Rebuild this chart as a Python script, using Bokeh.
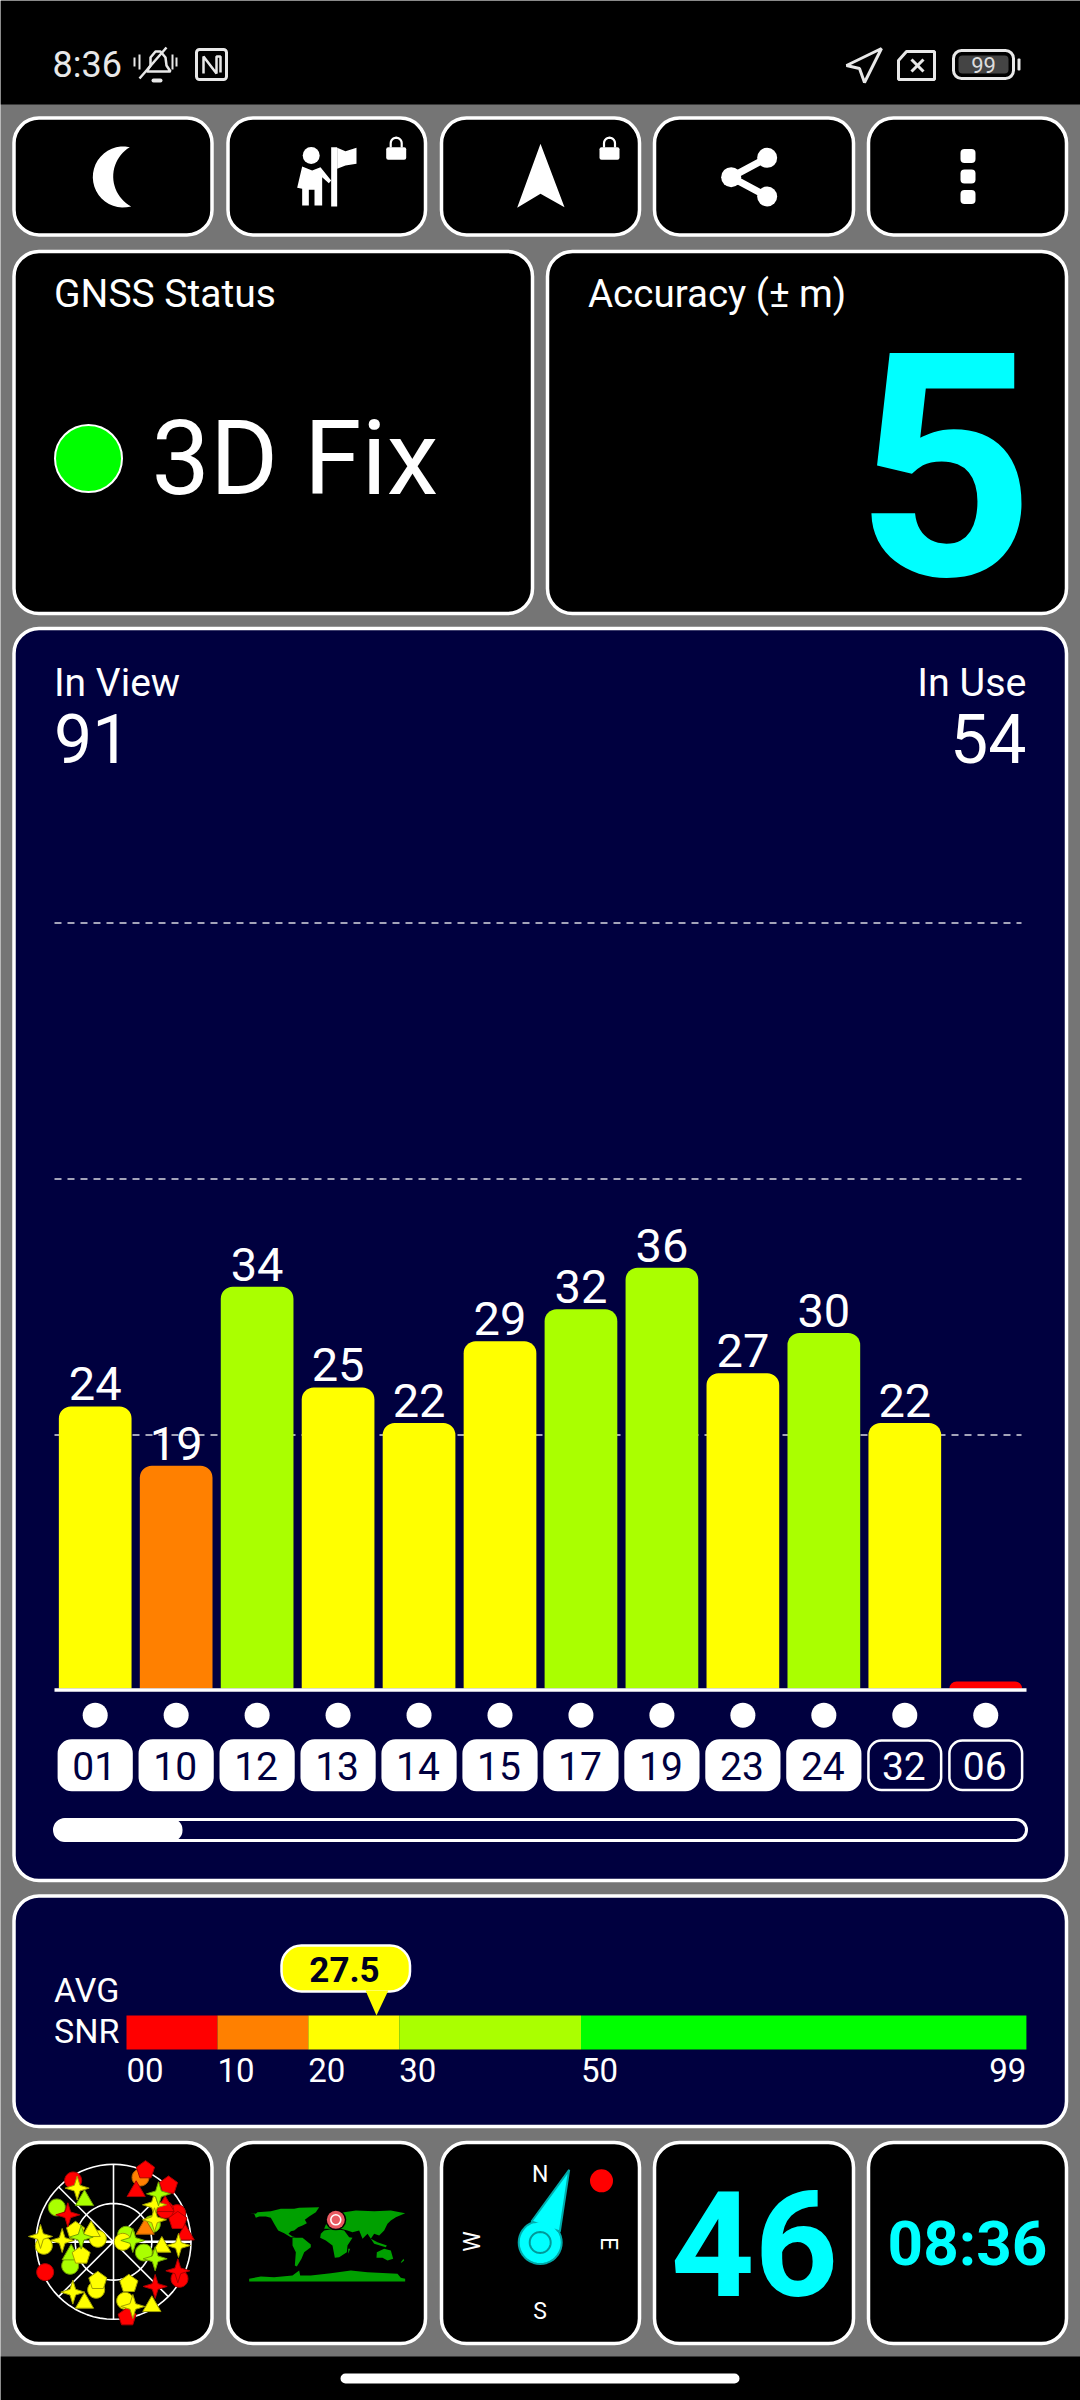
import math
from bokeh.plotting import figure
from bokeh.models import Range1d
from bokeh.core.properties import value
from bokeh.embed import file_html
from bokeh.resources import INLINE

# ---------- data ----------
prn_labels = ["01", "10", "12", "13", "14", "15", "17", "19", "23", "24", "32", "06"]
snr_heights = [23.8, 18.8, 33.9, 25.4, 22.4, 29.3, 32.0, 35.5, 26.6, 30.0, 22.4, 0.6]
snr_labels = ["24", "19", "34", "25", "22", "29", "32", "36", "27", "30", "22", ""]
bar_colors = ["#ffff00", "#ff8000", "#aaff00", "#ffff00", "#ffff00", "#ffff00", "#aaff00",
              "#aaff00", "#ffff00", "#aaff00", "#ffff00", "#ff0000"]
prn_used = [True] * 10 + [False, False]
grid_levels = [21.4, 43.0, 64.6]

avg_snr = 27.5
scale_starts = [0, 10, 20, 30, 50]
scale_ends = [10, 20, 30, 50, 99]
scale_colors = ["#ff0000", "#ff8000", "#ffff00", "#aaff00", "#00ff00"]
scale_ticks = [0, 10, 20, 30, 50]
scale_tick_labels = ["00", "10", "20", "30", "50"]

in_view = "91"
in_use = "54"
accuracy = "5"
speed = "46"
clock = "08:36"

# sky map: offsets from the radar centre (3x crop units), shape and colour class
sky_x = [-121, -205, 198, 191, 155, 81, -170, -130, 91, 38, 115,
         -209, -47, -52, 35, 28, 96, 165, 193, 41,
         68, 215, 155, -87, -127, 95,
         -67, 145, 115, -87,
         -97, -47, 46, -114,
         -109, -219, -154, -122, 123, 195, 58, 123,
         135, -97, 58, 125,
         -137, 125, 193]
sky_y = [-184, 91, 111, -86, -96, -193, -103, 72, 32, -21, -53,
         12, -9, 144, 177, 0, -215, -169, -63, 226,
         -156, -26, -111, -129, 34, -43,
         -36, 11, 189, 179,
         41, 117, 126, -33,
         -161, -16, -4, 151, -111, 11, 194, -66,
         -144, -14, -4, 51,
         -81, 134, 87]
sky_shape = ["c"] * 5 + ["c"] + ["c"] * 5 + ["c"] * 4 + ["c"] + ["p"] * 4 + ["t"] * 3 + ["t"] * 2 + ["t"] + ["t"] * 4 + ["p"] * 4 + ["s"] * 8 + ["s"] * 4 + ["s"] * 3
sky_color = ["r"] * 5 + ["o"] + ["g"] * 5 + ["y"] * 4 + ["y"] + ["r"] * 4 + ["r"] * 3 + ["g"] * 2 + ["o"] + ["y"] * 4 + ["y"] * 4 + ["y"] * 8 + ["g"] * 4 + ["r"] * 3

# world map outline, 3x crop units
map_polys = [
    [(65,97),(85,100),(90,95),(130,92),(160,85),(200,85),(215,82),(275,80),(265,95),(245,108),(232,118),(238,128),(225,135),(212,140),(200,150),(190,152),(183,160),(195,168),(205,170),(190,170),(170,158),(152,150),(140,130),(130,112),(115,108),(95,108),(85,112),(80,100)],
    [(195,172),(225,172),(250,192),(250,200),(230,215),(222,235),(208,258),(202,255),(205,215),(195,195)],
    [(290,150),(320,145),(350,150),(365,170),(375,172),(360,195),(358,215),(335,230),(322,232),(315,195),(295,180),(278,172),(280,160)],
    [(290,145),(300,120),(320,100),(350,95),(385,90),(440,92),(490,90),(533,98),(505,110),(490,120),(480,130),(470,150),(455,165),(440,160),(430,175),(420,160),(405,175),(395,150),(375,155),(360,150),(340,145)],
    [(430,175),(450,185),(478,195),(475,200),(440,190)],
    [(448,215),(470,205),(490,210),(497,235),(480,240),(465,232),(447,232)],
    [(520,245),(528,235),(530,240),(522,247)],
    [(362,205),(368,205),(362,220)],
    [(65,295),(100,288),(140,290),(195,285),(215,270),(218,285),(250,285),(310,278),(370,270),(420,275),(510,280),(520,292),(533,295),(533,303),(65,303)],
]

# ---------- layout constants ----------
GRAY, NAVY, WHITE, CYAN = "#757575", "#00003f", "#ffffff", "#00ffff"
K = 11.85          # px per SNR unit on bars
BASE = 1688
X0, DX = 94.7, 80.96
SX0, SK = 126.0, 9.09
CAP = 0.355        # half the cap height of the font, in em
FONT = value("Roboto")

p = figure(width=1080, height=2400, output_backend="svg", toolbar_location=None,
           x_range=Range1d(0, 1080), y_range=Range1d(2400, 0),
           min_border=0, background_fill_color=GRAY, border_fill_color=GRAY)
p.axis.visible = False
p.grid.visible = False
p.outline_line_color = None
p.extra_y_ranges = {"val": Range1d((BASE - 2400) / K, BASE / K)}
p.extra_x_ranges = {"sat": Range1d((0 - X0) / DX, (1080 - X0) / DX),
                    "scale": Range1d((0 - SX0) / SK, (1080 - SX0) / SK)}


def panel(l, t, r, b, fill="#000000", line=WHITE, lw=3.5, rad=25):
    p.quad(left=[l], right=[r], top=[t], bottom=[b], fill_color=fill, line_color=line,
           line_width=lw, border_radius=rad)


def txt(x, y, s, size, color=WHITE, align="left", base="alphabetic", style="normal", angle=0):
    if base == "alphabetic":
        y -= CAP * size
    p.text(x=[x], y=[y], text=[s], text_font=FONT, text_font_size=f"{size}px", text_color=color,
           text_align=align, text_baseline="middle", text_font_style=style, angle=angle)


def poly(pts, fill=WHITE, line=None, lw=1):
    p.patch([a for a, _ in pts], [b for _, b in pts], fill_color=fill, line_color=line, line_width=lw)


def circle_pts(cx, cy, r, n=40, rot=0):
    return [(cx + r * math.cos(rot + 2 * math.pi * i / n), cy + r * math.sin(rot + 2 * math.pi * i / n)) for i in range(n)]


def arc3(a, m, b, n=24):
    d = 2 * (a[0] * (m[1] - b[1]) + m[0] * (b[1] - a[1]) + b[0] * (a[1] - m[1]))
    sa, sm, sb = a[0]**2 + a[1]**2, m[0]**2 + m[1]**2, b[0]**2 + b[1]**2
    cx = (sa * (m[1] - b[1]) + sm * (b[1] - a[1]) + sb * (a[1] - m[1])) / d
    cy = (sa * (b[0] - m[0]) + sm * (a[0] - b[0]) + sb * (m[0] - a[0])) / d
    r = math.hypot(a[0] - cx, a[1] - cy)
    t0 = math.atan2(a[1] - cy, a[0] - cx) % (2 * math.pi)
    t1 = math.atan2(b[1] - cy, b[0] - cx) % (2 * math.pi)
    return [(cx + r * math.cos(t0 + (t1 - t0) * i / n), cy + r * math.sin(t0 + (t1 - t0) * i / n)) for i in range(n + 1)]


# status and navigation bars
p.quad(left=[0], right=[1080], top=[0], bottom=[104], fill_color="#000000", line_color=None)
p.quad(left=[0], right=[1080], top=[2356], bottom=[2400], fill_color="#000000", line_color=None)
p.quad(left=[340], right=[739], top=[2373], bottom=[2383], fill_color=WHITE, line_color=None, border_radius=5)
txt(52, 77, "8:36", 36, "#e8e8e8")

# muted bell
bell = [(146, 71), (150, 65), (150, 57), (155, 51), (160, 51), (165, 57), (166, 65), (170, 71)]
p.line([a for a, _ in bell] + [146], [b for _, b in bell] + [71], line_color="#e8e8e8", line_width=2.5)
p.line([139, 166], [78, 47], line_color="#e8e8e8", line_width=2.5)
p.line([134, 134], [57, 66], line_color="#e8e8e8", line_width=2)
p.line([139, 139], [54, 69], line_color="#e8e8e8", line_width=2)
p.line([176, 176], [57, 66], line_color="#e8e8e8", line_width=2)
p.line([172, 172], [54, 69], line_color="#e8e8e8", line_width=2)
p.quad(left=[151], right=[162], top=[78], bottom=[82], fill_color="#e8e8e8", line_color=None, border_radius=2)
# NFC
p.quad(left=[196], right=[226], top=[49], bottom=[79], fill_color=None, line_color="#e8e8e8", line_width=3, border_radius=3)
p.line([203, 203, 216, 216, 220, 220], [73, 56, 73, 56, 56, 72], line_color="#e8e8e8", line_width=2.5)
# location arrow
poly([(881, 48), (846, 65), (859, 68), (864, 82)], fill=None, line="#e8e8e8", lw=3)
# SIM
poly([(906, 51), (934, 51), (934, 79), (898, 79), (898, 60)], fill=None, line="#e8e8e8", lw=3)
p.line([911, 923], [59, 71], line_color="#e8e8e8", line_width=3)
p.line([923, 911], [59, 71], line_color="#e8e8e8", line_width=3)
# battery
p.quad(left=[953], right=[1013], top=[50], bottom=[78], fill_color=None, line_color="#e8e8e8", line_width=3, border_radius=8)
p.quad(left=[958], right=[1008], top=[55], bottom=[73], fill_color="#444444", line_color=None, border_radius=4)
p.quad(left=[1017], right=[1020], top=[58], bottom=[70], fill_color="#e8e8e8", line_color=None, border_radius=1)
txt(983, 64.5, "99", 22, "#dddddd", align="center", base="middle")

# top buttons
btn_x = [(13.5, 211.5), (227.5, 425), (441, 639), (654, 853), (868, 1066)]
for l, r in btn_x:
    panel(l, 117.6, r, 234.4)
# moon
moon = arc3((129.3, 146.7), (92.3, 176.5), (130.7, 206)) + arc3((130.7, 206), (112.7, 176.5), (129.3, 146.7))
poly(moon)
# person + flag
p.scatter([310.7], [155], size=17, fill_color=WHITE, line_color=None)
poly([(z / 3, y / 3 + 110) for z, y in [(905,168),(935,180),(960,170),(992,210),(985,218),(965,200),(965,285),(942,285),(942,238),(925,238),(925,285),(905,285),(905,235),(890,232)]])
poly([(z / 3, y / 3 + 110) for z, y in [(992,110),(1010,110),(1010,288),(992,288)]])
poly([(z / 3, y / 3 + 110) for z, y in [(1010,112),(1035,122),(1068,112),(1068,160),(1035,165),(1010,175)]])
# locks
for lx in (395.7, 609):
    p.quad(left=[lx - 10], right=[lx + 10], top=[146.7], bottom=[159.3], fill_color=WHITE, line_color=None, border_radius=2)
    arc = [(lx + 5.5 * math.cos(a / 10 * math.pi), 146.7 - 4 - 5.5 * math.sin(a / 10 * math.pi)) for a in range(11)]
    p.line([lx + 5.5] + [a for a, _ in arc] + [lx - 5.5], [147] + [b for _, b in arc] + [147], line_color=WHITE, line_width=2.2)
# navigation arrow
poly([(430 + z / 3, 110 + y / 3) for z, y in [(330,100),(402,290),(330,250),(260,292)]])
# share
sx = [430 + 1010 / 3, 430 + 902 / 3, 430 + 1010 / 3]
sy = [110 + 142 / 3, 110 + 200 / 3, 110 + 258 / 3]
p.line(sx, sy, line_color=WHITE, line_width=7)
p.scatter(sx, sy, size=20, fill_color=WHITE, line_color=None)
# menu dots
for cy in (155.6, 176, 196.5):
    p.quad(left=[960], right=[975], top=[cy - 7], bottom=[cy + 7], fill_color=WHITE, line_color=None, border_radius=4)

# status / accuracy
panel(13.5, 251, 532, 613)
panel(547, 251, 1066, 613)
txt(53.5, 307, "GNSS Status", 39)
txt(587.5, 307, "Accuracy (± m)", 38.5)
p.scatter([88], [458], size=67, fill_color="#00ff00", line_color=WHITE, line_width=2)
txt(151, 495, "3D Fix", 104)
txt(1034, 573, accuracy, 312, CYAN, align="right", style="bold")

# signal panel
panel(13.5, 628, 1066, 1880, fill=NAVY)
txt(53.5, 696, "In View", 39)
txt(1026, 696, "In Use", 39.5, align="right")
txt(53.5, 762, in_view, 68)
txt(1026, 762, in_use, 68, align="right")

n = len(prn_labels)
for lvl in grid_levels:
    p.line(x=[54, 1021], y=[lvl, lvl], y_range_name="val", line_color=WHITE, line_alpha=0.85,
           line_width=1.5, line_dash="7 6")

idx = list(range(n))
p.vbar(x=idx, width=0.898, bottom=0, top=snr_heights, x_range_name="sat", y_range_name="val",
       fill_color=bar_colors, line_color=None, border_radius=(12, 12, 0, 0))
p.text(x=idx, y=snr_heights, text=snr_labels, x_range_name="sat", y_range_name="val", y_offset=-6 - CAP * 47,
       text_font=FONT, text_font_size="47px", text_color=WHITE, text_align="center", text_baseline="middle")
p.line([54, 1026], [1689.5, 1689.5], line_color=WHITE, line_width=3.5)
p.scatter(x=idx, y=[1714.7] * n, x_range_name="sat", size=25, fill_color=WHITE, line_color=None)
p.quad(left=[i - 0.449 for i in idx], right=[i + 0.449 for i in idx], top=[1740] * n, bottom=[1789.5] * n,
       x_range_name="sat", fill_color=[WHITE if u else NAVY for u in prn_used], line_color=WHITE,
       line_width=2.5, border_radius=13)
p.text(x=idx, y=[1765.5] * n, text=prn_labels, x_range_name="sat", x_offset=-1, text_font=FONT, text_font_size="39px",
       text_color=[NAVY if u else WHITE for u in prn_used], text_align="center", text_baseline="middle")
p.quad(left=[54], right=[1026], top=[1819], bottom=[1840], fill_color=None, line_color=WHITE, line_width=3, border_radius=11)
p.quad(left=[54], right=[182], top=[1818], bottom=[1841], fill_color=WHITE, line_color=None, border_radius=11)

# average SNR panel
panel(13.5, 1895.5, 1066, 2126, fill=NAVY)
txt(53.5, 2002, "AVG", 34)
txt(53.5, 2043, "SNR", 34)
p.quad(left=scale_starts, right=scale_ends, top=[2015] * 5, bottom=[2049] * 5, x_range_name="scale",
       fill_color=scale_colors, line_color=None)
p.text(x=scale_ticks, y=[2081 - CAP * 33] * 5, text=scale_tick_labels, x_range_name="scale", x_offset=0,
       text_font=FONT, text_font_size="33px", text_color=WHITE, text_align="left", text_baseline="middle")
p.text(x=[99], y=[2081 - CAP * 33], text=["99"], x_range_name="scale", text_font=FONT, text_font_size="33px",
       text_color=WHITE, text_align="right", text_baseline="middle")
p.quad(left=[281], right=[409.5], top=[1945], bottom=[1991], fill_color="#ffff00", line_color=WHITE, line_width=2.5, border_radius=20)
p.patch(x=[avg_snr - 1.2, avg_snr, avg_snr + 1.3], y=[1990, 2015, 1990], x_range_name="scale",
        fill_color="#ffff00", line_color=None)
txt(344, 1969, f"{avg_snr}", 35, "#000020", align="center", base="middle", style="bold")

# bottom tiles
for l, r in btn_x:
    panel(l, 2142, r, 2343)

# radar
RX, RY = 113.0, 2241.3
for r_ in (77.5, 38.3):
    pts = circle_pts(RX, RY, r_, 72)
    p.line([a for a, _ in pts] + [pts[0][0]], [b for _, b in pts] + [pts[0][1]], line_color=WHITE, line_width=1.6)
p.line([RX, RX], [RY - 77.5, RY + 77.5], line_color=WHITE, line_width=1.6)
p.line([RX - 77.5, RX + 77.5], [RY, RY], line_color=WHITE, line_width=2.5)
d = 77.5 * math.cos(math.pi / 4)
p.line([RX - d, RX + d], [RY - d, RY + d], line_color=WHITE, line_width=1.6)
p.line([RX - d, RX + d], [RY + d, RY - d], line_color=WHITE, line_width=1.6)

sky_fill = {"r": "#ff0000", "o": "#ff8000", "y": "#ffff00", "g": "#aaff00"}
sky_edge = {"r": "#b00000", "o": "#b06000", "y": "#a0a000", "g": "#70a000"}
xs_, ys_, fills_, edges_ = [], [], [], []
for ex, ny, sh, co in zip(sky_x, sky_y, sky_shape, sky_color):
    cx, cy = RX + ex / 3, RY + ny / 3
    if sh == "c":
        pts = circle_pts(cx, cy, 8.5, 24)
    elif sh == "p":
        pts = circle_pts(cx, cy, 9.5, 5, -math.pi / 2)
    elif sh == "t":
        pts = circle_pts(cx, cy + 1.5, 10.5, 3, -math.pi / 2)
    else:
        pts = [(cx + (12 if i % 2 == 0 else 4) * math.cos(i * math.pi / 4 - math.pi / 2),
                cy + (12 if i % 2 == 0 else 4) * math.sin(i * math.pi / 4 - math.pi / 2)) for i in range(8)]
    xs_.append([a for a, _ in pts])
    ys_.append([b for _, b in pts])
    fills_.append(sky_fill[co])
    edges_.append(sky_edge[co])
p.patches(xs_, ys_, fill_color=fills_, line_color=edges_, line_width=1)

# world map
for poly_pts in map_polys:
    poly([(227 + z / 3, 2180 + y / 3) for z, y in poly_pts], fill="#00a000")
p.scatter([335.3], [2219.3], size=21, fill_color="#000000", line_color=None)
p.scatter([335.3], [2219.3], size=18, fill_color="#e85a62", line_color=None)
p.scatter([335.3], [2219.3], size=10, fill_color="#e85a62", line_color="#ffffff", line_width=1.6)

# compass
CX, CY = 539.7, 2242.0
poly(circle_pts(CX, CY, 21.5, 40), fill=CYAN, line="#00aaaa", lw=2)
needle = [(441 + z / 3, 2141 + y / 3) for z, y in [(383, 85), (270, 240), (355, 270)]]
poly(needle, fill=CYAN, line="#00aaaa", lw=2)
poly(circle_pts(CX, CY, 20, 40), fill=CYAN)
pts = circle_pts(CX, CY, 10.5, 40)
p.line([a for a, _ in pts] + [pts[0][0]], [b for _, b in pts] + [pts[0][1]], line_color="#009999", line_width=2)
p.scatter([601], [2180.3], size=23, fill_color="#ff0000", line_color=None)
txt(539.7, 2173.5, "N", 23, align="center", base="middle")
txt(539.7, 2311, "S", 23, align="center", base="middle")
txt(607.5, 2243, "E", 23, align="center", base="middle", angle=-math.pi / 2)
txt(472, 2241, "W", 23, align="center", base="middle", angle=math.pi / 2)

# tiles with numbers
txt(754, 2243, speed, 146, CYAN, align="center", base="middle", style="bold")
txt(967, 2242.5, clock, 62, CYAN, align="center", base="middle", style="bold")

open("out.html", "w").write(file_html(p, INLINE))
